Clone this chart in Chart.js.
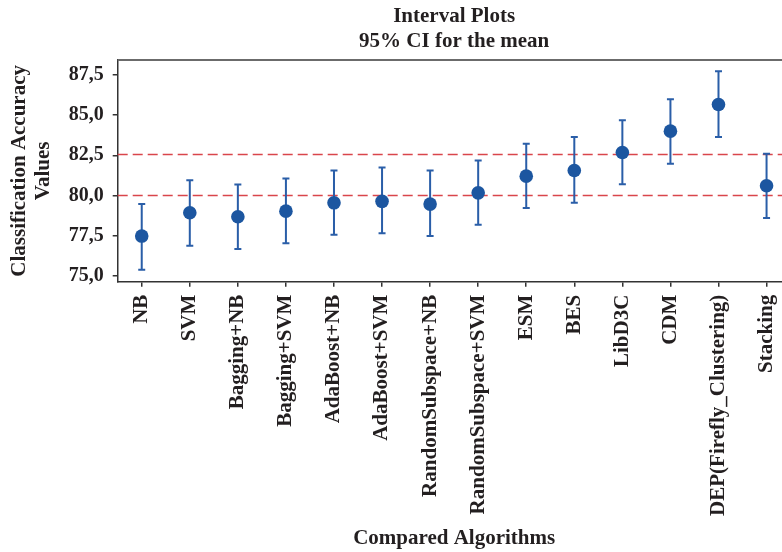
<!DOCTYPE html>
<html>
<head>
<meta charset="utf-8">
<script src="https://cdn.jsdelivr.net/npm/chart.js@4"></script>
<style>
  html, body { margin: 0; padding: 0; background: #fff; overflow: hidden; }
</style>
</head>
<body>
<canvas id="chart" width="800" height="552"></canvas>
<script>
const algorithms = ['NB', 'SVM', 'Bagging+NB', 'Bagging+SVM', 'AdaBoost+NB', 'AdaBoost+SVM', 'RandomSubspace+NB',
  'RandomSubspace+SVM', 'ESM', 'BES', 'LibD3C', 'CDM', 'DEP(Firefly_Clustering)', 'Stacking'];
const means = [77.47, 78.92, 78.67, 79.02, 79.54, 79.63, 79.46, 80.16, 81.20, 81.55, 82.67, 84.00, 85.66, 80.60];
const lower = [75.37, 76.87, 76.66, 77.03, 77.55, 77.64, 77.47, 78.17, 79.21, 79.54, 80.69, 81.97, 83.64, 78.59];
const upper = [79.46, 80.95, 80.68, 81.06, 81.55, 81.74, 81.55, 82.18, 83.21, 83.64, 84.68, 85.99, 87.73, 82.59];
const yTicks = [75, 77.5, 80, 82.5, 85, 87.5];
const refLines = [80.0, 82.55];
const titleLines = ['Interval Plots', '95% CI for the mean'];

const textColor = '#231f20';
const serif = "'Liberation Serif', 'Times New Roman', serif";

// whiskers and dashed reference lines, drawn under the points
const intervals = {
  id: 'intervals',
  beforeDatasetsDraw(chart) {
    const { ctx, chartArea, scales: { x, y } } = chart;
    ctx.save();
    ctx.strokeStyle = '#d9464b';
    ctx.lineWidth = 1.5;
    ctx.setLineDash([10, 5]);
    refLines.forEach(v => {
      const py = y.getPixelForValue(v);
      ctx.beginPath();
      ctx.moveTo(chartArea.left, py);
      ctx.lineTo(chartArea.right, py);
      ctx.stroke();
    });
    ctx.setLineDash([]);
    ctx.strokeStyle = '#2a5ea8';
    ctx.lineWidth = 2;
    algorithms.forEach((a, i) => {
      const px = x.getPixelForValue(i);
      const top = y.getPixelForValue(upper[i]);
      const bot = y.getPixelForValue(lower[i]);
      ctx.beginPath();
      ctx.moveTo(px, top); ctx.lineTo(px, bot);
      ctx.moveTo(px - 3.5, top); ctx.lineTo(px + 3.5, top);
      ctx.moveTo(px - 3.5, bot); ctx.lineTo(px + 3.5, bot);
      ctx.stroke();
    });
    ctx.restore();
  },
  afterDraw(chart) {
    const { ctx, chartArea } = chart;
    ctx.save();
    ctx.strokeStyle = '#6b6b6b';
    ctx.lineWidth = 2;
    ctx.beginPath();
    ctx.moveTo(chartArea.left, chartArea.top);
    ctx.lineTo(chartArea.right, chartArea.top);
    ctx.stroke();
    ctx.fillStyle = textColor;
    ctx.font = 'bold 21px ' + serif;
    ctx.textAlign = 'center';
    ctx.textBaseline = 'middle';
    const cx = (chartArea.left + chartArea.right) / 2;
    titleLines.forEach((t, i) => ctx.fillText(t, cx, 16.5 + i * 25));
    ctx.restore();
  }
};

new Chart(document.getElementById('chart'), {
  type: 'line',
  data: {
    labels: algorithms,
    datasets: [{
      label: 'Mean',
      data: means,
      showLine: false,
      pointRadius: 6.8,
      pointBackgroundColor: '#1c56a0',
      pointBorderColor: '#1c56a0',
      pointBorderWidth: 0
    }]
  },
  options: {
    responsive: false,
    animation: false,
    layout: { padding: { top: 60, right: 6, left: 0, bottom: 0 } },
    plugins: { legend: { display: false }, tooltip: { enabled: false } },
    scales: {
      x: {
        type: 'category',
        offset: true,
        grid: { drawOnChartArea: false, drawTicks: true, tickLength: 5, tickColor: '#333', lineWidth: 1.5, offset: false },
        border: { display: true, color: '#333', width: 1.5 },
        ticks: {
          autoSkip: false, minRotation: 90, maxRotation: 90, padding: 8,
          color: textColor, font: { family: serif, size: 21, weight: 'bold' }
        },
        title: {
          display: true, text: 'Compared Algorithms', color: textColor,
          font: { family: serif, size: 21, weight: 'bold' }, padding: { top: 0, bottom: 1 }
        },
        afterFit(scale) { scale.height = 552 - 281.7; }
      },
      y: {
        min: 74.63,
        max: 88.43,
        afterBuildTicks(scale) { scale.ticks = yTicks.map(v => ({ value: v })); },
        grid: { drawOnChartArea: false, drawTicks: true, tickLength: 5, tickColor: '#333', lineWidth: 1.5 },
        border: { display: true, color: '#333', width: 1.5 },
        ticks: {
          padding: 9, color: textColor, font: { family: serif, size: 20, weight: 'bold' },
          callback: v => v.toFixed(1).replace('.', ',')
        },
        title: {
          display: true, text: ['Classification Accuracy', 'Values'], color: textColor,
          font: { family: serif, size: 21, weight: 'bold', lineHeight: 1.1 }, padding: { top: 8.5, bottom: 0 }
        },
        afterFit(scale) { scale.width = 117.7; }
      }
    }
  },
  plugins: [intervals]
});
</script>
</body>
</html>
